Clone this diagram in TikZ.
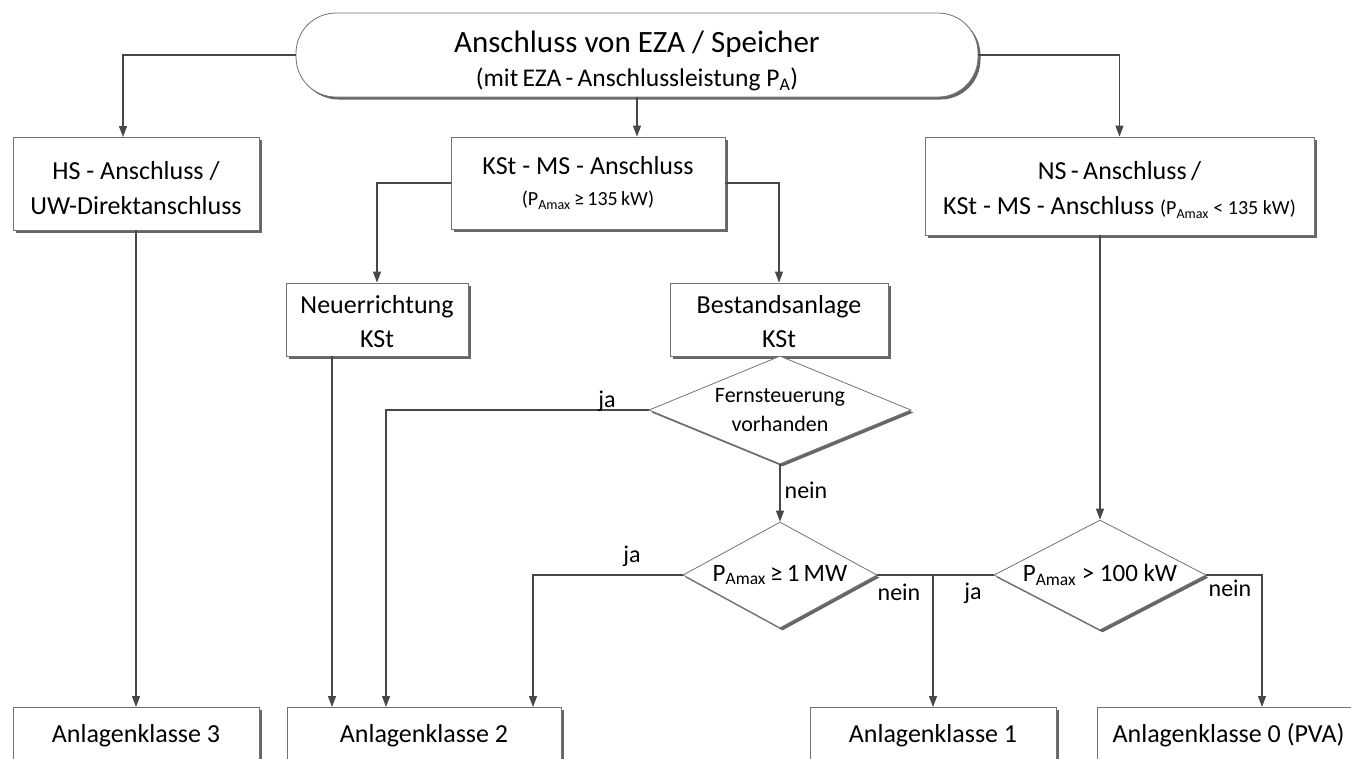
\documentclass[tikz,border=0pt]{standalone}
\usepackage{fontspec}
\setmainfont{Carlito}
\usetikzlibrary{arrows.meta,shapes.geometric,shadows}
\begin{document}
\begin{tikzpicture}[x=1pt,y=-1pt,
  lc/.style={draw=black!72, line width=1.2pt},
  arr/.style={lc, -{Triangle[length=11pt,width=8pt]}},
  shad/.style={drop shadow={shadow xshift=2.5pt, shadow yshift=-2.5pt, fill=black!60, opacity=1}},
  box/.style={draw=black!55, line width=0.8pt, fill=white, shad, inner sep=0pt, align=center,
    font=\fontsize{26}{35}\selectfont},
  topbox/.style={box, rounded corners=40pt},
  decision/.style={diamond, draw=black!55, line width=0.8pt, fill=white, shad, inner sep=0pt, align=center},
  lowbox/.style={box, anchor=north, text height=35pt, text depth=60pt},
  lbl/.style={inner sep=0pt, font=\fontsize{24}{28}\selectfont}
]
\useasboundingbox (0,0) rectangle (1351,758);
\clip (0,0) rectangle (1351,758);

% top
\node[topbox, minimum width=682, minimum height=84] (top) at (637,55)
  {{\fontsize{31}{33}\selectfont \rule{0pt}{34pt}Anschluss von EZA / Speicher}\\[-1pt]
   {\fontsize{25.5}{33}\selectfont (mit\,EZA\,-\,Anschlussleistung P\textsubscript{A})}};

% second row
\node[box, minimum width=246, minimum height=93] (hs) at (136,183.5)
  {\rule{0pt}{28pt}HS - Anschluss /\\UW-Direktanschluss};
\node[box, minimum width=274, minimum height=92] (kst) at (588,183)
  {KSt - MS - Anschluss\\[-4pt]{\fontsize{20}{24}\selectfont (P\textsubscript{Amax}\,≥\,135\,kW)}};
\node[box, minimum width=389, minimum height=98] (ns) at (1119.5,186)
  {\rule{0pt}{26pt}NS\,-\,Anschluss\,/\\KSt - MS - Anschluss {\fontsize{20}{24}\selectfont (P\textsubscript{Amax} < 135 kW)}};

% third row
\node[box, minimum width=182, minimum height=73] (neu) at (377,319.5)
  {\rule{0pt}{22pt}Neuerrichtung\\[-1pt]KSt};
\node[box, minimum width=218, minimum height=73] (best) at (779,319.5)
  {\rule{0pt}{22pt}Bestandsanlage\\[-1pt]KSt};

% decisions
\node[decision, shape aspect=2.45, minimum width=262, minimum height=108, font=\fontsize{22}{29}\selectfont] (fern) at (780,410)
  {Fernsteuerung\\vorhanden};
\node[decision, shape aspect=1.83, minimum width=194, minimum height=106, font=\fontsize{25}{28}\selectfont] (d1) at (780,575)
  {P\textsubscript{Amax}\,≥\,1\,MW};
\node[decision, shape aspect=1.93, minimum width=212, minimum height=110, font=\fontsize{25}{28}\selectfont] (d2) at (1100,575)
  {P\textsubscript{Amax} > 100 kW};

% bottom row
\node[lowbox, minimum width=246] (k3) at (136,707) {Anlagenklasse 3};
\node[lowbox, minimum width=274] (k2) at (424,707) {Anlagenklasse 2};
\node[lowbox, minimum width=246] (k1) at (933,707) {Anlagenklasse 1};
\node[lowbox, minimum width=263] (k0) at (1228.5,707) {Anlagenklasse 0 (PVA)};

% helper coordinates
\coordinate (hsin) at (123,137);
\coordinate (neuout) at (332,356);
\coordinate (k2a) at (332,707);
\coordinate (k2b) at (386,707);
\coordinate (k2c) at (533,707);
\coordinate (k0in) at (1262,707);
\coordinate (join) at (933,575);

% connectors
\draw[arr] (top.west) -| (hsin);
\draw[arr] (top.east) -| (ns.north);
\draw[arr] (top.south) -- (top.south |- kst.north);
\draw[arr] (kst.west) -| (neu.north);
\draw[arr] (kst.east) -| (best.north);
\draw[arr] (hs.south) -- (k3.north);
\draw[arr] (neuout) -- (k2a);
\draw[arr] (fern.west) -| (k2b);
\draw[arr] (fern.south) -- (d1.north);
\draw[arr] (d1.west) -| (k2c);
\draw[arr] (d1.east) -| (k1.north);
\draw[lc] (d2.west) -- (join);
\draw[arr] (ns.south -| d2.north) -- (d2.north);
\draw[arr] (d2.east) -| (k0in);

% labels
\node[lbl] (ja1) at (607,401) {ja};
\node[lbl] (nein1) at (806,490) {nein};
\node[lbl] (ja2) at (632,556) {ja};
\node[lbl] (nein2) at (899,592) {nein};
\node[lbl] (ja3) at (973,593) {ja};
\node[lbl] (nein3) at (1230,588) {nein};
\end{tikzpicture}
\end{document}
